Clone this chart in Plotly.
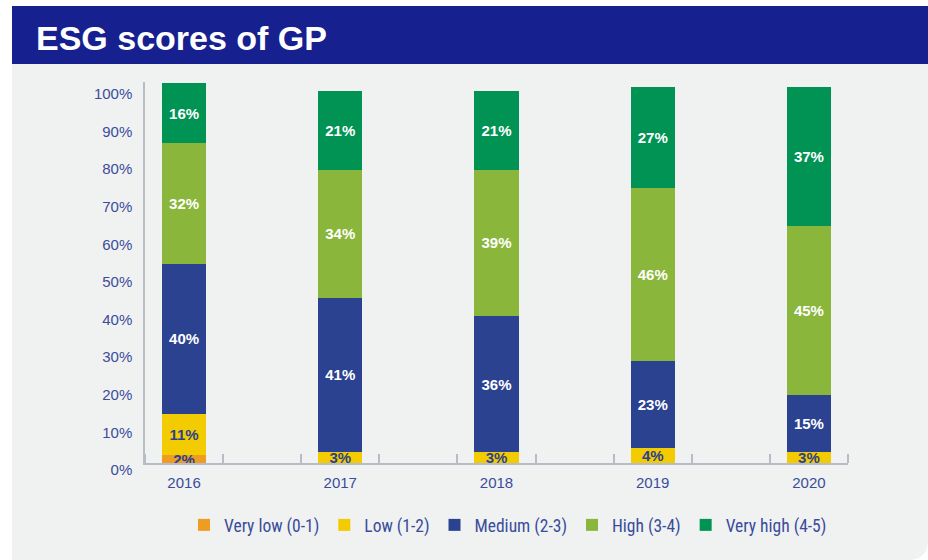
import plotly.graph_objects as go

years = ["2016", "2017", "2018", "2019", "2020"]
series_names = ["Very low (0-1)", "Low (1-2)", "Medium (2-3)", "High (3-4)", "Very high (4-5)"]
very_low = [2, 0, 0, 0, 0]
low = [11, 3, 3, 4, 3]
medium = [40, 41, 36, 23, 15]
high = [32, 34, 39, 46, 45]
very_high = [16, 21, 21, 27, 37]
y_ticks = [0, 10, 20, 30, 40, 50, 60, 70, 80, 90, 100]

colors = ["#EE9D22", "#F2CB00", "#2B4291", "#8AB63B", "#009354"]
text_colors = ["#2B4291", "#2B4291", "white", "white", "white"]
BLUE_TXT = "#3A4C9C"
BG = "#F0F2F1"
BANNER = "#17208F"

xpos = list(range(len(years)))
fig = go.Figure()
for name, vals, col, tcol in zip(series_names, [very_low, low, medium, high, very_high], colors, text_colors):
    fig.add_trace(go.Bar(
        x=xpos, y=vals, name=name, width=0.282,
        marker=dict(color=col, line=dict(width=0)),
        text=[f"{v}%" if v > 0 else "" for v in vals],
        textposition="inside", insidetextanchor="middle", textangle=0,
        textfont=dict(color=tcol, size=15, family="Liberation Sans, Arial, sans-serif", weight="bold"),
        cliponaxis=False,
    ))

L, R, T, B = 145, 80, 82, 97
W, H = 928, 560
pw, ph = W - L - R, H - T - B

def px_x(p):
    return (p - L) / pw

def px_y(p):
    return (H - B - p) / ph

corner = f"M {px_x(928)} {px_y(540)} L {px_x(928)} {px_y(560)} L {px_x(908)} {px_y(560)} Q {px_x(928)} {px_y(560)} {px_x(928)} {px_y(540)} Z"

fig.update_layout(
    width=W, height=H,
    barmode="stack",
    paper_bgcolor=BG, plot_bgcolor=BG,
    margin=dict(l=L, r=R, t=T, b=B),
    uniformtext=dict(minsize=14, mode="show"),
    showlegend=True,
    legend=dict(orientation="h", x=px_x(508), xanchor="center", y=px_y(525), yanchor="middle",
                font=dict(family="Liberation Sans Narrow, Roboto Condensed, Arial Narrow, sans-serif", size=17.5, color=BLUE_TXT),
                itemwidth=30, traceorder="normal", bgcolor="rgba(0,0,0,0)"),
    xaxis=dict(range=[-0.25, 4.25], tickmode="array", tickvals=xpos, ticktext=years, ticks="",
               showgrid=False, zeroline=False, showline=True, linecolor="#B8BCC4", linewidth=1.5,
               tickfont=dict(family="Liberation Sans, Arial, sans-serif", size=15, color=BLUE_TXT),
               ticklabelstandoff=5,
               minor=dict(ticks="inside", tick0=0.25, dtick=0.5, ticklen=9, tickcolor="#B8BCC4", tickwidth=1.5, showgrid=False)),
    yaxis=dict(range=[0, 101.3], tickmode="array", tickvals=y_ticks, ticktext=[f"{v}%" for v in y_ticks],
               ticks="", showgrid=False, zeroline=False, showline=True, linecolor="#B8BCC4", linewidth=1.5,
               tickfont=dict(family="Liberation Sans, Arial, sans-serif", size=15, color=BLUE_TXT),
               ticklabelshift=7, ticklabelstandoff=8),
    shapes=[
        dict(type="rect", xref="paper", yref="paper", x0=px_x(0), x1=px_x(12), y0=px_y(560), y1=px_y(0),
             fillcolor="white", line=dict(width=0), layer="below"),
        dict(type="rect", xref="paper", yref="paper", x0=px_x(0), x1=px_x(928), y0=px_y(6), y1=px_y(0),
             fillcolor="white", line=dict(width=0), layer="below"),
        dict(type="rect", xref="paper", yref="paper", x0=px_x(12), x1=px_x(928), y0=px_y(64), y1=px_y(6),
             fillcolor=BANNER, line=dict(width=0), layer="below"),
        dict(type="path", xref="paper", yref="paper", path=corner,
             fillcolor="white", line=dict(width=0), layer="below"),
    ],
    annotations=[
        dict(text="<b>ESG scores of GP</b>", xref="paper", yref="paper", x=px_x(34), y=px_y(38),
             xanchor="left", yanchor="middle", showarrow=False,
             font=dict(family="Liberation Sans, Arial, sans-serif", size=34, color="white")),
    ],
)

fig.write_html("out.html", config={"displayModeBar": False},
               post_script="document.body.style.margin='0';document.body.style.padding='0';")
